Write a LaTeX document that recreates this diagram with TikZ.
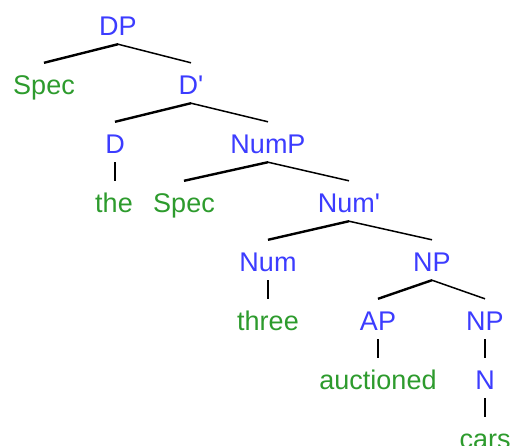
\documentclass[tikz,border=0pt]{standalone}
\usepackage{fontspec}
\setmainfont{Liberation Sans}
\definecolor{catblue}{RGB}{60,60,255}
\definecolor{wordgreen}{RGB}{45,155,45}
\begin{document}
\begin{tikzpicture}[x=1pt,y=-1pt,
  lbl/.style={anchor=base, inner xsep=0pt, inner ysep=3.5pt,
    text height=27.5pt, text depth=5.5pt,
    font=\fontsize{27}{30}\selectfont},
  cat/.style={lbl, text=catblue},
  word/.style={lbl, text=wordgreen},
  leftbr/.style={draw=black, line width=2.4pt},
  rightbr/.style={draw=black, line width=1.5pt},
  unary/.style={draw=black, line width=1.5pt}]
\clip (0,0) rectangle (512,445);
\useasboundingbox (0,0) rectangle (512,445);
% labels, placed on their baselines
\node[cat]  (dp)    at (118,35)  {DP};
\node[word] (spec1) at (44,94)   {Spec};
\node[cat]  (dbar)  at (191,94)  {D\textquotesingle};
\node[cat]  (d)     at (115,153) {D};
\node[cat]  (nump)  at (268,153) {NumP};
\node[word] (the)   at (114,212) {the};
\node[word] (spec2) at (184,212) {Spec};
\node[cat]  (numbar) at (349,212) {Num\textquotesingle};
\node[cat]  (num)   at (268,271) {Num};
\node[cat]  (np1)   at (432,271) {NP};
\node[word] (three) at (268,330) {three};
\node[cat]  (ap)    at (378,330) {AP};
\node[cat]  (np2)   at (485,330) {NP};
\node[word] (auct)  at (378,389) {auctioned};
\node[cat]  (n)     at (485,389) {N};
\node[word] (cars)  at (485,448) {cars};
% branches
\draw[leftbr]  (dp.south) -- (spec1.north);
\draw[rightbr] (dp.south) -- (dbar.north);
\draw[leftbr]  (dbar.south) -- (d.north);
\draw[rightbr] (dbar.south) -- (nump.north);
\draw[unary]   (d.south) -- (d.south |- the.north);
\draw[leftbr]  (nump.south) -- (spec2.north);
\draw[rightbr] (nump.south) -- (numbar.north);
\draw[leftbr]  (numbar.south) -- (num.north);
\draw[rightbr] (numbar.south) -- (np1.north);
\draw[unary]   (num.south) -- (num.south |- three.north);
\draw[leftbr]  (np1.south) -- (ap.north);
\draw[rightbr] (np1.south) -- (np2.north);
\draw[unary]   (ap.south) -- (ap.south |- auct.north);
\draw[unary]   (np2.south) -- (n.north);
\draw[unary]   (n.south) -- (cars.north);
\end{tikzpicture}
\end{document}
